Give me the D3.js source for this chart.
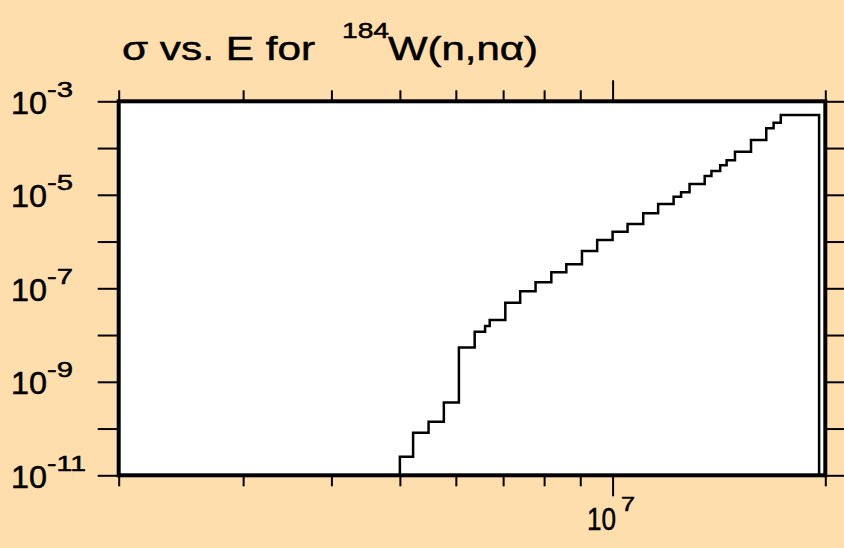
<!DOCTYPE html>
<html>
<head>
<meta charset="utf-8">
<script src="https://cdn.jsdelivr.net/npm/d3@7"></script>
<style>
  body { margin: 0; background: #ffdead; }
  svg { display: block; }
</style>
</head>
<body>
<div id="chart"></div>
<script>
// bin lower edges (eV) and cross sections (b) of the 184W(n,na) histogram
const energies = [5.0e6, 5.22e6, 5.49e6, 5.77e6, 6.06e6, 6.38e6, 6.60e6, 6.70e6, 7.05e6, 7.40e6,
    7.78e6, 8.19e6, 8.60e6, 9.05e6, 9.51e6, 1.0e7, 1.05e7, 1.105e7, 1.16e7, 1.22e7,
    1.25e7, 1.285e7, 1.35e7, 1.38e7, 1.42e7, 1.45e7, 1.49e7, 1.57e7, 1.65e7, 1.69e7, 1.73e7]
const sigma = [2.5e-11, 8.1e-11, 1.4e-10, 3.6e-10, 5.4e-9, 1.18e-8, 1.56e-8, 2.1e-8, 4.9e-8, 8.6e-8,
    1.34e-7, 2.2e-7, 3.26e-7, 6.28e-7, 1.08e-6, 1.63e-6, 2.37e-6, 4.02e-6, 6.35e-6, 9.1e-6,
    1.13e-5, 1.70e-5, 2.52e-5, 3.23e-5, 4.28e-5, 5.47e-5, 8.36e-5, 1.49e-4, 2.64e-4, 3.49e-4, 5.09e-4]
const upperEdge = 1.96e7

const xTicks = [2e6, 3e6, 4e6, 5e6, 6e6, 7e6, 8e6, 9e6, 1e7, 2e7]
const xMajor = [1e7]
const yTicks = [1e-11, 1e-10, 1e-9, 1e-8, 1e-7, 1e-6, 1e-5, 1e-4, 1e-3]
const yLabelPowers = [-3, -5, -7, -9, -11]

const WIDTH = 844
const HEIGHT = 548
const FONT = "'Liberation Sans', Arial, Helvetica, sans-serif"

const x = d3.scaleLog().domain([2e6, 2e7]).range([118.7, 825.3])
const y = d3.scaleLog().domain([1e-11, 1e-3]).range([475.3, 101.3])

const svg = d3.select("#chart").append("svg")
    .attr("width", WIDTH)
    .attr("height", HEIGHT)
    .style("background", "#ffdead")

// plot area
svg.append("rect")
    .attr("x", x.range()[0])
    .attr("y", y.range()[1])
    .attr("width", x.range()[1] - x.range()[0])
    .attr("height", y.range()[0] - y.range()[1])
    .attr("fill", "white")

// step line
const points = [[energies[0], 1e-11]]
    .concat(energies.map((e, i) => [e, sigma[i]]))
    .concat([[upperEdge, sigma[sigma.length - 1]], [upperEdge, 1e-11]])

const line = d3.line()
    .x(d => x(d[0]))
    .y(d => y(d[1]))
    .curve(d3.curveStepAfter)

svg.append("path")
    .datum(points)
    .attr("d", line)
    .attr("fill", "none")
    .attr("stroke", "black")
    .attr("stroke-width", 2.5)

// axes (ticks only)
function styleAxis(g) {
    g.select(".domain").remove()
    g.selectAll(".tick line").attr("stroke", "black").attr("stroke-width", 2)
    g.selectAll(".tick text").remove()
}

svg.append("g")
    .attr("transform", `translate(0,${y.range()[0]})`)
    .call(d3.axisBottom(x).tickValues(xTicks).tickSize(11).tickSizeOuter(0).tickFormat(""))
    .call(styleAxis)
    .selectAll(".tick line").filter(d => xMajor.includes(d)).attr("y2", 21)

svg.append("g")
    .attr("transform", `translate(0,${y.range()[1]})`)
    .call(d3.axisTop(x).tickValues(xTicks).tickSize(11).tickSizeOuter(0).tickFormat(""))
    .call(styleAxis)
    .selectAll(".tick line").filter(d => xMajor.includes(d)).attr("y2", -21)

svg.append("g")
    .attr("transform", `translate(${x.range()[0]},0)`)
    .call(d3.axisLeft(y).tickValues(yTicks).tickSize(21).tickSizeOuter(0).tickFormat(""))
    .call(styleAxis)

svg.append("g")
    .attr("transform", `translate(${x.range()[1]},0)`)
    .call(d3.axisRight(y).tickValues(yTicks).tickSize(21).tickSizeOuter(0).tickFormat(""))
    .call(styleAxis)

// frame
svg.append("rect")
    .attr("x", x.range()[0])
    .attr("y", y.range()[1])
    .attr("width", x.range()[1] - x.range()[0])
    .attr("height", y.range()[0] - y.range()[1])
    .attr("fill", "none")
    .attr("stroke", "black")
    .attr("stroke-width", 4)

// text is a bit heavier in the original plot
const textStyle = g => g
    .attr("font-family", FONT)
    .attr("fill", "black")
    .attr("stroke", "black")
    .attr("stroke-width", 0.5)

// y labels: 10^p
const yLabels = svg.append("g")
    .call(textStyle)
    .selectAll("text")
    .data(yLabelPowers)
    .join("text")
    .attr("x", 11)
    .attr("y", p => y(Math.pow(10, p)) + 12.5)

yLabels.append("tspan")
    .attr("font-size", 31)
    .attr("textLength", 36)
    .attr("lengthAdjust", "spacingAndGlyphs")
    .text("10")
yLabels.append("tspan")
    .attr("font-size", 22)
    .attr("dy", -17)
    .attr("textLength", p => String(p).length * 13)
    .attr("lengthAdjust", "spacingAndGlyphs")
    .text(p => p)

// x label: 10^7
const xLabels = svg.append("g")
    .call(textStyle)
    .selectAll("text")
    .data(xMajor)
    .join("text")
    .attr("x", d => x(d) - 25.5)
    .attr("y", 530)

xLabels.append("tspan")
    .attr("font-size", 31)
    .attr("textLength", 29)
    .attr("lengthAdjust", "spacingAndGlyphs")
    .text("10")
xLabels.append("tspan")
    .attr("font-size", 20)
    .attr("dx", 5)
    .attr("dy", -19)
    .attr("textLength", 14)
    .attr("lengthAdjust", "spacingAndGlyphs")
    .text(d => Math.round(Math.log10(d)))

// title
const title = svg.append("g").call(textStyle)
title.append("text")
    .attr("x", 122)
    .attr("y", 59.5)
    .attr("font-size", 33)
    .attr("textLength", 193)
    .attr("lengthAdjust", "spacingAndGlyphs")
    .text("σ vs. E for")
title.append("text")
    .attr("x", 342)
    .attr("y", 38.3)
    .attr("font-size", 22)
    .attr("textLength", 47)
    .attr("lengthAdjust", "spacingAndGlyphs")
    .text("184")
title.append("text")
    .attr("x", 388)
    .attr("y", 59.5)
    .attr("font-size", 33)
    .attr("textLength", 150)
    .attr("lengthAdjust", "spacingAndGlyphs")
    .text("W(n,nα)")
</script>
</body>
</html>
